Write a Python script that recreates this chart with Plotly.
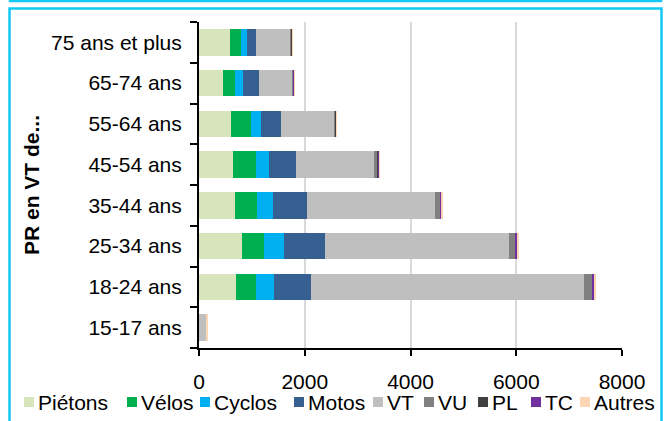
import plotly.graph_objects as go

categories = ["15-17 ans", "18-24 ans", "25-34 ans", "35-44 ans",
              "45-54 ans", "55-64 ans", "65-74 ans", "75 ans et plus"]
series_names = ["Piétons", "Vélos", "Cyclos", "Motos", "VT", "VU", "PL", "TC", "Autres"]
pietons = [0, 700, 815, 690, 635, 600, 445, 580]
velos = [0, 370, 420, 415, 435, 380, 240, 220]
cyclos = [0, 355, 375, 295, 245, 195, 150, 105]
motos = [0, 700, 780, 640, 525, 385, 305, 175]
vt = [150, 5160, 3470, 2415, 1475, 1000, 625, 645]
vu = [0, 150, 125, 105, 70, 30, 25, 30]
pl = [0, 10, 10, 10, 8, 5, 5, 5]
tc = [0, 30, 35, 17, 16, 6, 5, 12]
autres = [5, 35, 25, 25, 10, 8, 12, 5]
x_ticks = [0, 2000, 4000, 6000, 8000]
y_title = "PR en VT de..."

series_values = [pietons, velos, cyclos, motos, vt, vu, pl, tc, autres]
colors = ["#D8E4BC", "#00B050", "#00B0F0", "#376092", "#BFBFBF",
          "#808080", "#404040", "#7030A0", "#FCD5B4"]

W, H = 667, 421
L, R, T, B = 199, 45, 22, 73
PW, PH = W - L - R, H - T - B
FONT = "Liberation Sans, Arial, sans-serif"


def px2x(px):
    return (px - L) / PW


def py2y(py):
    return (H - B - py) / PH


fig = go.Figure()
for name, vals, col in zip(series_names, series_values, colors):
    fig.add_trace(go.Bar(y=categories, x=vals, name=name, orientation="h",
                         marker=dict(color=col, line=dict(width=0)),
                         showlegend=False))

shapes = []
annotations = []
# manual legend
leg_sq_left = [24, 127, 200, 294, 373, 424, 478, 531, 580]
leg_y = 402
for name, col, sx in zip(series_names, colors, leg_sq_left):
    shapes.append(dict(type="rect", xref="paper", yref="paper",
                       xsizemode="pixel", ysizemode="pixel",
                       xanchor=px2x(sx), yanchor=py2y(leg_y),
                       x0=0, x1=10, y0=-5, y1=5,
                       fillcolor=col, line=dict(width=0), layer="above"))
    annotations.append(dict(text=name, xref="paper", yref="paper",
                            x=px2x(sx + 12), y=py2y(leg_y), xanchor="left",
                            yanchor="middle", showarrow=False,
                            font=dict(family=FONT, size=21, color="black")))

# y axis title
annotations.append(dict(text="<b>" + y_title + "</b>", xref="paper", yref="paper",
                        x=px2x(31), y=0.5, textangle=-90, showarrow=False,
                        xanchor="center", yanchor="middle",
                        font=dict(family=FONT, size=21, color="black")))

# cyan frames
cyan = "#12C8F4"
shapes.append(dict(type="rect", xref="paper", yref="paper",
                   x0=px2x(10), x1=px2x(661), y0=py2y(1), y1=py2y(-30),
                   line=dict(color=cyan, width=2.5), fillcolor="rgba(0,0,0,0)"))
shapes.append(dict(type="rect", xref="paper", yref="paper",
                   x0=px2x(9.5), x1=px2x(661.5), y0=py2y(440), y1=py2y(8.5),
                   line=dict(color=cyan, width=2.5), fillcolor="rgba(0,0,0,0)"))

fig.update_layout(
    width=W, height=H,
    margin=dict(l=L, r=R, t=T, b=B, pad=0),
    barmode="stack", bargap=0.345,
    paper_bgcolor="white", plot_bgcolor="white",
    font=dict(family=FONT, size=21, color="black"),
    shapes=shapes, annotations=annotations,
    xaxis=dict(range=[0, 8000], tickvals=x_ticks, ticktext=[str(v) for v in x_ticks],
               showgrid=True, gridcolor="#D9D9D9", gridwidth=2,
               showline=True, linecolor="black", linewidth=2,
               ticks="outside", ticklen=6, tickwidth=2, tickcolor="black",
               zeroline=False, ticklabelstandoff=8,
               tickfont=dict(family=FONT, size=21, color="black")),
    yaxis=dict(type="category", categoryorder="array", categoryarray=categories,
               showline=True, linecolor="black", linewidth=2,
               ticks="outside", ticklen=7, tickwidth=2, tickcolor="black",
               tickson="boundaries", showgrid=False, ticklabelstandoff=11,
               tickfont=dict(family=FONT, size=21, color="black")),
)

fig.write_html("out.html", config={"displayModeBar": False},
               post_script="document.body.style.margin='0';document.body.style.overflow='hidden';")
